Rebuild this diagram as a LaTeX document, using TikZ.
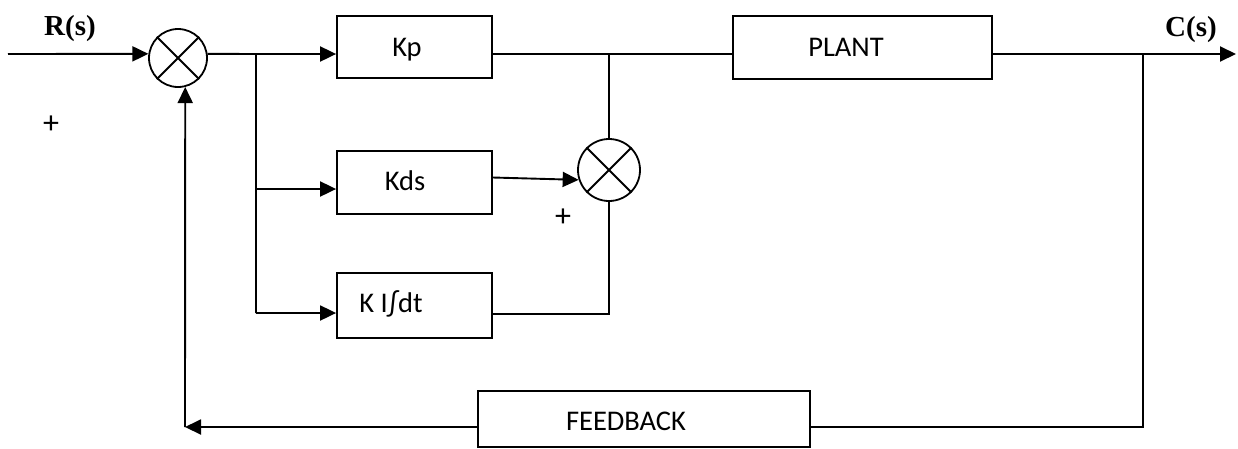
\documentclass[tikz,border=0pt]{standalone}
\usepackage{fontspec}
\setmainfont{Carlito}
\newfontfamily\tnr{Liberation Serif}
\usetikzlibrary{arrows.meta}
\begin{document}
\begin{tikzpicture}[x=1pt,y=-1pt,
  line width=1.9pt,
  arr/.style={-{Triangle[length=16pt,width=15pt]}},
  blk/.style={draw,line width=1.8pt,minimum width=#1,inner sep=0pt},
  sumnode/.style={draw,circle,line width=1.8pt,minimum size=#1,inner sep=0pt},
  txt/.style={font=\fontsize{28.5}{34}\selectfont,anchor=base,inner sep=0pt},
  sig/.style={font=\tnr\bfseries\fontsize{29}{34}\selectfont,anchor=base,inner sep=0pt},
  plus/.style={font=\fontsize{32}{36}\selectfont,inner sep=0pt}]
\useasboundingbox (0,0) rectangle (1238,448);
\clip (0,0) rectangle (1238,448);
% coordinates
\coordinate (in) at (8,54);
\coordinate (b1) at (256,54);
\coordinate (b2) at (256,189);
\coordinate (b3) at (256,313);
\coordinate (j1) at (609,54);
\coordinate (ki) at (609,314);
\coordinate (j2) at (1143,54);
\coordinate (out) at (1236,54);
\coordinate (fbR) at (1143,427);
\coordinate (fbL) at (185,427);
% nodes
\node[sumnode=58pt] (s1) at (178,58) {};
\node[sumnode=62pt] (s2) at (609,170) {};
\node[blk=155pt,minimum height=62pt] (Kp) at (414.5,47) {};
\node[blk=155pt,minimum height=63pt] (Kds) at (414.5,182.5) {};
\node[blk=155pt,minimum height=65pt] (KI) at (414.5,305.5) {};
\node[blk=259pt,minimum height=63pt] (P) at (862.5,47.5) {};
\node[blk=332pt,minimum height=56pt] (FB) at (644,419) {};
% crosses
\draw[line width=1.8pt] (s1.45) -- (s1.225) (s1.135) -- (s1.315);
\draw[line width=1.8pt] (s2.45) -- (s2.225) (s2.135) -- (s2.315);
% texts
\node[txt] (tKp) at (407,56) {Kp};
\node[txt] (tKds) at (405,190) {Kds};
\node[txt] (tKI) at (391,312) {K I∫dt};
\node[txt] (tP) at (846,56) {PLANT};
\node[txt] (tFB) at (626,430) {FEEDBACK};
\node[sig] (R) at (70,35) {R(s)};
\node[sig] (C) at (1191,36) {C(s)};
\node[plus] (p1) at (51,125) {+};
\node[plus] (p2) at (563,218) {+};
% connectors
\draw[arr] (in) -- (s1.172);
\draw (s1.8) -- (b1) -- (b3);
\draw[arr] (b1) -- (b1 -| Kp.west);
\draw[arr] (b2) -- (b2 -| Kds.west);
\draw[arr] (b3) -- (b3 -| KI.west);
\draw (b1 -| Kp.east) -- (j1) -- (s2.north);
\draw (j1) -- (j1 -| P.west);
\draw[arr] ([yshift=5pt]Kds.east) -- (s2.198);
\draw (ki -| KI.east) -- (ki) -- (s2.south);
\draw[arr] (j2 -| P.east) -- (out);
\draw (j2) -- (fbR) -- (fbR -| FB.east);
\draw[arr] (fbL -| FB.west) -- (fbL);
\draw[arr] (fbL) -- (s1.284);
\end{tikzpicture}
\end{document}
